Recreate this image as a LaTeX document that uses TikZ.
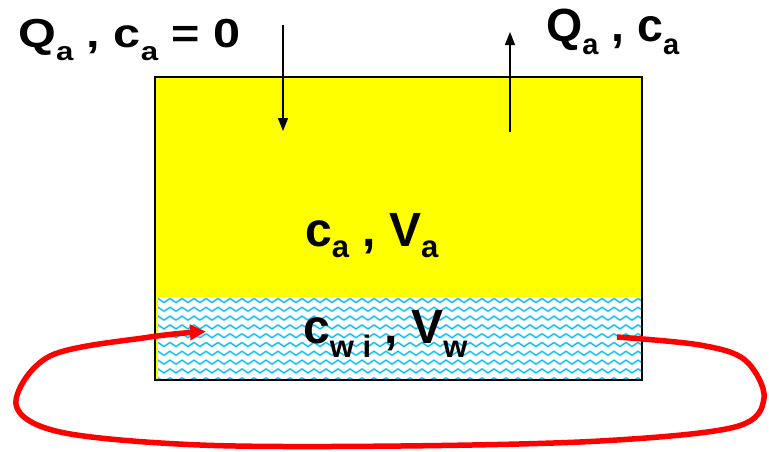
\documentclass[tikz,border=0pt]{standalone}
\usepackage{fontspec}
\setmainfont{Liberation Sans}
\usetikzlibrary{arrows.meta}
\newcommand{\subT}[1]{\raisebox{-13pt}{\fontsize{26}{26}\selectfont #1}}
\newcommand{\subR}[1]{\raisebox{-13pt}{\fontsize{29}{29}\selectfont #1}}
\newcommand{\subM}[1]{\raisebox{-11pt}{\fontsize{31}{31}\selectfont #1}}
\newcommand{\subW}[1]{\raisebox{-14pt}{\fontsize{31}{31}\selectfont #1}}
\definecolor{tankyellow}{RGB}{255,255,0}
\definecolor{wavecyan}{RGB}{0,190,245}
\definecolor{wavelight}{RGB}{170,232,255}
\definecolor{loopred}{RGB}{255,0,0}
\tikzset{
  lbl/.style={inner sep=0pt, anchor=base west, font=\bfseries},
  flowarrow/.style={draw=black, line width=1.3pt, -{Triangle[length=13pt,width=10pt]}},
  loop/.style={draw=loopred, line width=5.5pt, line cap=butt, -{Triangle[length=16pt,width=15pt]}},
  wavehalo/.style={draw=wavelight, line width=2.2pt, line join=round},
  wavecore/.style={draw=wavecyan, line width=1pt, line join=round},
}
\begin{document}
\begin{tikzpicture}[x=1pt,y=-1pt]
\useasboundingbox (0,0) rectangle (769,451);
% tank
\fill[tankyellow] (155,77) rectangle (642,297);
\fill[white] (155,297) rectangle (642,380);
\begin{scope}
  \clip (155,297) rectangle (642,380);
  \foreach \yy in {300.5,309.3,318.1,326.9,335.7,344.5,353.3,362.1,370.9,379.7}{
    \draw[wavehalo] plot[domain=0:504, samples=169] ({149+\x},{\yy+2*sin(30*\x)});
    \draw[wavecore] plot[domain=0:504, samples=169] ({149+\x},{\yy+2*sin(30*\x)});
  }
\end{scope}
\fill[tankyellow] (155.5,297) rectangle (158,380);
\node[draw=black, line width=1.5pt, inner sep=0pt, minimum width=487pt, minimum height=303pt] (tank) at (398.5,228.5) {};
% labels
\node[lbl] (inlbl) at (18,47) {\scalebox{1.2}[1]{\fontsize{40.5}{40.5}\selectfont Q\subT{a} , c\subT{a} = 0}};
\node[lbl] (outlbl) at (546,41) {\fontsize{46.5}{46.5}\selectfont Q\subR{a} , c\subR{a}};
\node[lbl] (airlbl) at (305,246) {\fontsize{48}{48}\selectfont c\subM{a} , V\subM{a}};
\node[lbl] (waterlbl) at (303,343) {\fontsize{48}{48}\selectfont c\subW{w i} , V\subW{w}};
% flow arrows
\coordinate (inA) at (283,25);
\coordinate (inB) at (283,131);
\coordinate (outA) at (510,132);
\coordinate (outB) at (510,32);
\draw[flowarrow] (inA) -- (inB);
\draw[flowarrow] (outA) -- (outB);
% red recirculation loop
\coordinate (rs) at (617,337);
\coordinate (re) at (206,331.5);
\draw[loop] plot[smooth, tension=0.55] coordinates {(rs) (700,345) (745,360) (764,398) (735,427) (600,441) (400,446) (200,445) (60,432) (16,404) (50,356) (150,337) (re)};
\end{tikzpicture}
\end{document}
